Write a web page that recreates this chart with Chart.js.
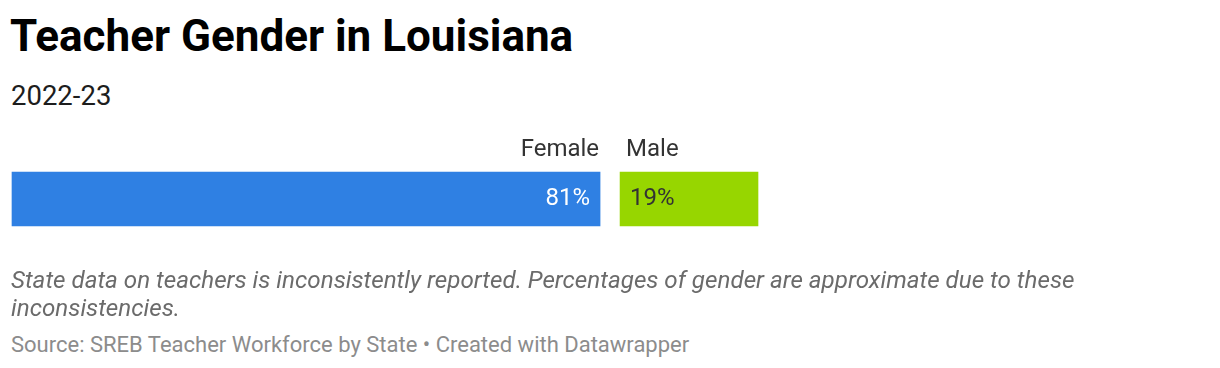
<!DOCTYPE html>
<html>
<head>
<meta charset="utf-8">
<script src="https://cdn.jsdelivr.net/npm/chart.js@4"></script>
<style>
    body { margin: 0; width: 1220px; height: 368px; background: #fff; font-family: Roboto, sans-serif; position: relative; overflow: hidden; }
    .title { position: absolute; left: 10px; top: 10px; font-size: 44px; font-weight: 700; color: #000; white-space: nowrap; }
    .subtitle { position: absolute; left: 11px; top: 78.5px; font-size: 27.5px; color: #1d1d1d; }
    #chart-wrap { position: absolute; left: 0; top: 120px; width: 1220px; height: 158px; }
    .notes { position: absolute; left: 11px; top: 266px; width: 1120px; font-size: 24.2px; line-height: 28px; font-style: italic; color: #6b6b6b; z-index: 2; }
    .source { position: absolute; left: 11px; top: 332px; font-size: 22px; color: #8c8c8c; z-index: 2; white-space: nowrap; }
</style>
</head>
<body>
<div class="title">Teacher Gender in Louisiana</div>
<div class="subtitle">2022-23</div>
<div id="chart-wrap"><canvas id="barChart"></canvas></div>
<div class="notes">State data on teachers is inconsistently reported. Percentages of gender are approximate due to these inconsistencies.</div>
<div class="source">Source: SREB Teacher Workforce by State • Created with Datawrapper</div>

<script>
// Data
const categories = ['2022-23'];
const seriesNames = ['Female', 'Male'];
const femaleValues = [81];
const maleValues = [19];
const colors = ['#2f80e3', '#97d600'];
const valueColors = ['#ffffff', '#333333'];

const GAP = 20; // white gap between the two segments

Chart.defaults.font.family = 'Roboto, sans-serif';

// shift the second segment right so there is a gap between segments
const gapPlugin = {
    id: 'gap',
    afterDatasetsUpdate(chart) {
        const meta = chart.getDatasetMeta(1);
        meta.data.forEach(bar => {
            bar.x += GAP;
            bar.base += GAP;
        });
    }
};

// series names above the bar and values inside it
const labelPlugin = {
    id: 'labels',
    afterDatasetsDraw(chart) {
        const ctx = chart.ctx;
        ctx.save();
        chart.data.datasets.forEach((ds, i) => {
            const bar = chart.getDatasetMeta(i).data[0];
            const top = bar.y - bar.height / 2;
            ctx.font = '24px Roboto';
            ctx.textBaseline = 'alphabetic';
            ctx.fillStyle = '#333';
            if (i === 0) {
                ctx.textAlign = 'right';
                ctx.fillText(ds.label, bar.x - 1, top - 16);
            } else {
                ctx.textAlign = 'left';
                ctx.fillText(ds.label, bar.base + 6, top - 16);
            }
            ctx.textBaseline = 'middle';
            ctx.fillStyle = valueColors[i];
            const txt = ds.data[0] + '%';
            if (i === 0) {
                ctx.textAlign = 'right';
                ctx.fillText(txt, bar.x - 10, bar.y);
            } else {
                ctx.textAlign = 'left';
                ctx.fillText(txt, bar.base + 10, bar.y);
            }
        });
        ctx.restore();
    }
};

const barChartCtx = document.getElementById('barChart').getContext('2d');

new Chart(barChartCtx, {
    type: 'bar',
    data: {
        labels: categories,
        datasets: [
            { label: seriesNames[0], data: femaleValues, backgroundColor: colors[0], barThickness: 54, clip: false },
            { label: seriesNames[1], data: maleValues, backgroundColor: colors[1], barThickness: 54, clip: false }
        ]
    },
    options: {
        indexAxis: 'y',
        responsive: true,
        maintainAspectRatio: false,
        animation: false,
        layout: { padding: { left: 12, right: 482, top: 0, bottom: 0 } },
        scales: {
            x: { stacked: true, min: 0, max: 100, display: false },
            y: { stacked: true, display: false }
        },
        plugins: {
            legend: { display: false },
            tooltip: { enabled: false }
        }
    },
    plugins: [gapPlugin, labelPlugin]
});
</script>
</body>
</html>
